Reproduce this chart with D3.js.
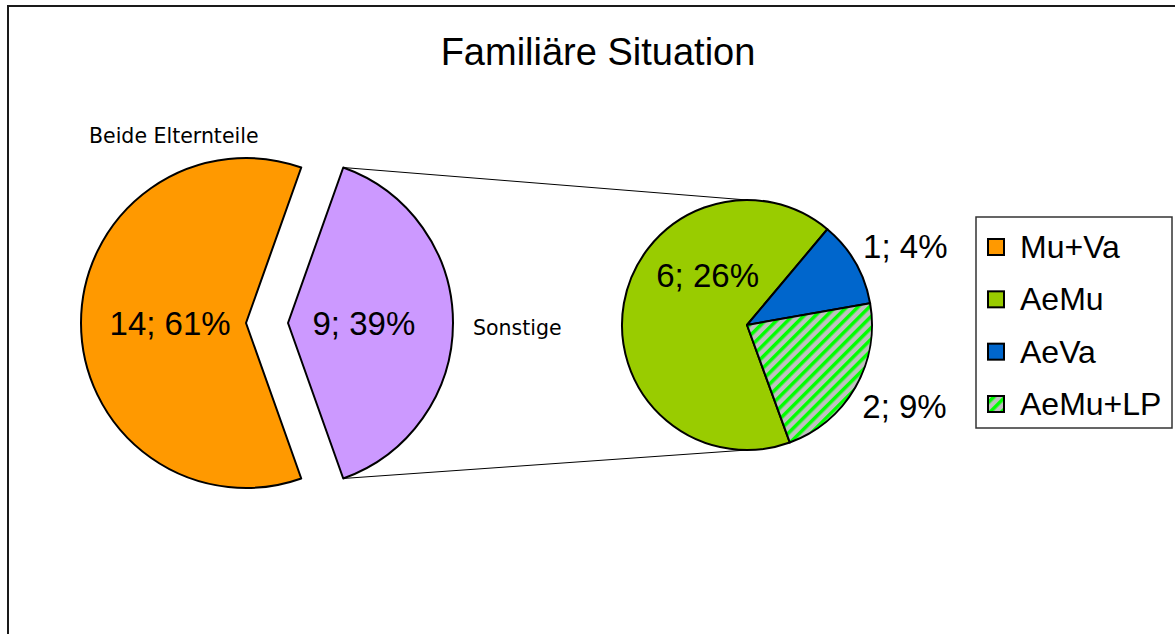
<!DOCTYPE html>
<html lang="de">
<head>
<meta charset="utf-8">
<title>Familiäre Situation</title>
<script src="https://d3js.org/d3.v7.min.js"></script>
<style>
  body { margin: 0; background: #fff; }
  svg { display: block; }
</style>
</head>
<body>
<div id="chart"></div>
<script>
// data
var mainLabels = ["Mu+Va", "Sonstige"];
var mainValues = [14, 9];
var subLabels = ["AeMu", "AeVa", "AeMu+LP"];
var subValues = [6, 1, 2];
var legendLabels = ["Mu+Va", "AeMu", "AeVa", "AeMu+LP"];

var total = d3.sum(mainValues);
var W = 1175, H = 634;

var svg = d3.select("#chart").append("svg")
    .attr("width", W).attr("height", H);

// hatch pattern for AeMu+LP
var defs = svg.append("defs");
var pat = defs.append("pattern")
    .attr("id", "hatch")
    .attr("patternUnits", "userSpaceOnUse")
    .attr("width", 8).attr("height", 8)
    .attr("patternTransform", "rotate(45)");
pat.append("rect").attr("width", 8).attr("height", 8).attr("fill", "#c0c0c0");
pat.append("rect").attr("width", 3.5).attr("height", 8).attr("fill", "#00ff00");

var colors = {
  "Mu+Va": "#ff9900",
  "Sonstige": "#cc99ff",
  "AeMu": "#99cc00",
  "AeVa": "#0066cc",
  "AeMu+LP": "url(#hatch)"
};

// outer frame
svg.append("rect")
    .attr("x", 8).attr("y", 6)
    .attr("width", W + 20).attr("height", H + 20)
    .attr("fill", "none").attr("stroke", "#1a1a1a").attr("stroke-width", 2);

svg.append("text")
    .attr("x", 598).attr("y", 65)
    .attr("text-anchor", "middle")
    .style("font-family", "'Liberation Sans', Arial, sans-serif")
    .style("font-size", "38px")
    .text("Familiäre Situation");

var fmt = function(v) { return v + "; " + Math.round(v / total * 100) + "%"; };

// ---- main pie
var mainR = 165, mainCx = 246, mainCy = 323, explode = 42;
var otherFrac = mainValues[1] / total;
var mainPie = d3.pie().sort(null)
    .startAngle(Math.PI / 2 + otherFrac * Math.PI)
    .endAngle(Math.PI / 2 + otherFrac * Math.PI + 2 * Math.PI);
var mainArcs = mainPie(mainValues);
mainArcs.forEach(function(a, i) { a.label = mainLabels[i]; });

var arcMain = d3.arc().innerRadius(0).outerRadius(mainR);

function offsetOf(a) {
  if (a.label !== "Sonstige") return [0, 0];
  var mid = (a.startAngle + a.endAngle) / 2;
  return [explode * Math.sin(mid), -explode * Math.cos(mid)];
}

var gMain = svg.append("g").attr("transform", "translate(" + mainCx + "," + mainCy + ")");
gMain.selectAll("path").data(mainArcs).enter().append("path")
    .attr("transform", function(d) { var o = offsetOf(d); return "translate(" + o[0] + "," + o[1] + ")"; })
    .attr("d", arcMain)
    .attr("fill", function(d) { return colors[d.label]; })
    .attr("stroke", "#000").attr("stroke-width", 2).attr("stroke-linejoin", "round");

var labelArc = d3.arc().innerRadius(mainR * 0.46).outerRadius(mainR * 0.46);
gMain.selectAll("text.val").data(mainArcs).enter().append("text")
    .attr("class", "val")
    .attr("x", function(d) { return labelArc.centroid(d)[0] + offsetOf(d)[0]; })
    .attr("y", function(d) { return labelArc.centroid(d)[1] + 12; })
    .attr("text-anchor", "middle")
    .style("font-family", "'Liberation Sans', Arial, sans-serif")
    .style("font-size", "33px")
    .text(function(d) { return fmt(d.value); });

// category names of main pie
svg.append("text")
    .attr("x", 89).attr("y", 143)
    .style("font-family", "'DejaVu Sans', Verdana, sans-serif")
    .style("font-size", "20.5px")
    .text("Beide Elternteile");
svg.append("text")
    .attr("x", 473).attr("y", 335)
    .style("font-family", "'DejaVu Sans', Verdana, sans-serif")
    .style("font-size", "20.5px")
    .text(mainLabels[1]);

// ---- sub pie
var subR = 125, subCx = 747, subCy = 325;
var subStart = 160 * Math.PI / 180;
var subPie = d3.pie().sort(null).startAngle(subStart).endAngle(subStart + 2 * Math.PI);
var subArcs = subPie(subValues);
subArcs.forEach(function(a, i) { a.label = subLabels[i]; });

// connector lines
var other = mainArcs[1];
var oOff = offsetOf(other);
[[other.startAngle, subCy - subR], [other.endAngle, subCy + subR]].forEach(function(p) {
  svg.append("line")
      .attr("x1", mainCx + oOff[0] + mainR * Math.sin(p[0]))
      .attr("y1", mainCy + oOff[1] - mainR * Math.cos(p[0]))
      .attr("x2", subCx).attr("y2", p[1])
      .attr("stroke", "#000").attr("stroke-width", 1);
});

var arcSub = d3.arc().innerRadius(0).outerRadius(subR);
var gSub = svg.append("g").attr("transform", "translate(" + subCx + "," + subCy + ")");
gSub.selectAll("path").data(subArcs).enter().append("path")
    .attr("d", arcSub)
    .attr("fill", function(d) { return colors[d.label]; })
    .attr("stroke", "#000").attr("stroke-width", 2).attr("stroke-linejoin", "round");

// label placement per slice: [angle in degrees, radius]; null = slice middle, outside
var subLabelPos = [[322, 64], null, null];
gSub.selectAll("text.val").data(subArcs).enter().append("text")
    .attr("class", "val")
    .each(function(d, i) {
      var p = subLabelPos[i];
      var ang = p ? p[0] * Math.PI / 180 : (d.startAngle + d.endAngle) / 2 + (i === 1 ? 0.06 : -0.05);
      var r = p ? p[1] : 177;
      d3.select(this)
        .attr("x", r * Math.sin(ang))
        .attr("y", -r * Math.cos(ang) + 12);
    })
    .attr("text-anchor", "middle")
    .style("font-family", "'Liberation Sans', Arial, sans-serif")
    .style("font-size", "33px")
    .text(function(d) { return fmt(d.value); });

// ---- legend
var leg = svg.append("g");
leg.append("rect")
    .attr("x", 976).attr("y", 217).attr("width", 196).attr("height", 211)
    .attr("fill", "#fff").attr("stroke", "#333").attr("stroke-width", 1.5);
var yLeg = d3.scalePoint().domain(legendLabels).range([247, 404]);
var items = leg.selectAll("g.item").data(legendLabels).enter().append("g")
    .attr("class", "item")
    .attr("transform", function(d) { return "translate(0," + yLeg(d) + ")"; });
items.append("rect")
    .attr("x", 988).attr("y", -8).attr("width", 16).attr("height", 16)
    .attr("fill", function(d) { return colors[d]; })
    .attr("stroke", "#000").attr("stroke-width", 2);
items.append("text")
    .attr("x", 1020).attr("y", 11)
    .style("font-family", "'Liberation Sans', Arial, sans-serif")
    .style("font-size", "32px")
    .text(function(d) { return d; });
</script>
</body>
</html>
